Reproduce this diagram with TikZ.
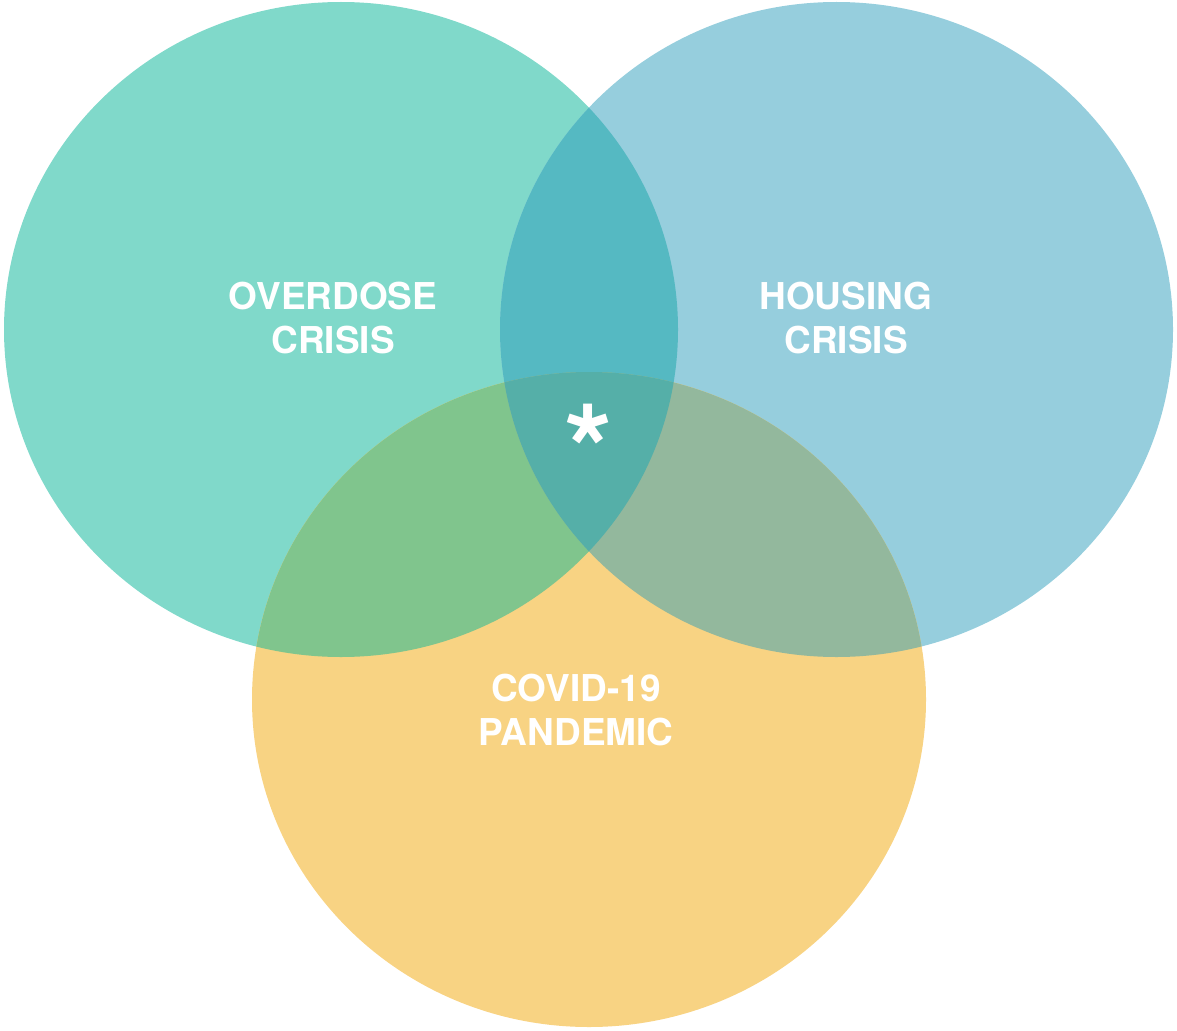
\documentclass[tikz,border=0pt]{standalone}
\usepackage{fontspec}
\setmainfont{TeX Gyre Heros}
\definecolor{cL}{RGB}{128,217,202}
\definecolor{cR}{RGB}{150,206,221}
\definecolor{cB}{RGB}{248,211,131}
\definecolor{cLR}{RGB}{85,185,194}
\definecolor{cLB}{RGB}{128,197,141}
\definecolor{cRB}{RGB}{147,184,157}
\definecolor{cC}{RGB}{85,175,168}
\tikzset{lbl/.style={text=white,font=\fontsize{37}{44}\selectfont\bfseries,align=center,inner sep=0pt}}
\begin{document}
\begin{tikzpicture}[x=1pt,y=-1pt]
\useasboundingbox (0,0) rectangle (1177,1030);
\def\ellL{(341,329.5) ellipse [x radius=337, y radius=327.5]}
\def\ellR{(836.5,329.5) ellipse [x radius=336.5, y radius=327.5]}
\def\ellB{(589,699.5) ellipse [x radius=337, y radius=327.5]}
\fill[cL] \ellL;
\fill[cR] \ellR;
\fill[cB] \ellB;
\begin{scope}
  \clip \ellL;
  \fill[cLR] \ellR;
  \fill[cLB] \ellB;
\end{scope}
\begin{scope}
  \clip \ellR;
  \fill[cRB] \ellB;
\end{scope}
\begin{scope}
  \clip \ellR;
  \clip \ellB;
  \fill[cC] \ellL;
\end{scope}
\node[lbl] (over) at (333,318) {OVERDOSE\\CRISIS};
\node[lbl] (hous) at (846,318) {HOUSING\\CRISIS};
\node[lbl] (covid) at (576,710) {COVID-19\\PANDEMIC};
\node[text=white,font=\fontsize{124}{124}\selectfont\bfseries,inner sep=0pt,anchor=base] (star) at (589,494) {*};
\end{tikzpicture}
\end{document}
